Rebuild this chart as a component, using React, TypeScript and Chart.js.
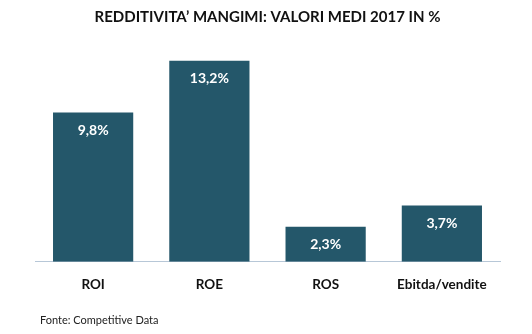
import React, { useEffect, useRef } from "react";
import { Chart, registerables } from "chart.js";

Chart.register(...registerables);

const categories = ["ROI", "ROE", "ROS", "Ebitda/vendite"];
const values = [9.8, 13.2, 2.3, 3.7];
const valueLabels = ["9,8%", "13,2%", "2,3%", "3,7%"];
const titleText = "REDDITIVITA\u2019 MANGIMI: VALORI MEDI 2017 IN %";
const sourceText = "Fonte: Competitive Data";

const FONT = "Lato, 'Open Sans', sans-serif";
const BAR = "#24576A";

const labelPlugin = {
  id: "labelsAndSource",
  afterDatasetsDraw(chart: any) {
    const ctx = chart.ctx;
    const meta = chart.getDatasetMeta(0);
    ctx.save();
    ctx.fillStyle = "#ffffff";
    ctx.font = `bold 14px ${FONT}`;
    ctx.textAlign = "center";
    ctx.textBaseline = "middle";
    meta.data.forEach((el: any, i: number) => {
      ctx.fillText(valueLabels[i], el.x, el.y + 18);
    });
    ctx.fillStyle = "#222222";
    ctx.font = `11px ${FONT}`;
    ctx.textAlign = "left";
    ctx.fillText(sourceText, 40, 320);
    ctx.restore();
  },
};

export default function App() {
  const ref = useRef<HTMLCanvasElement | null>(null);
  useEffect(() => {
    document.body.style.margin = "0";
    const chart = new Chart(ref.current!, {
      type: "bar",
      data: {
        labels: categories,
        datasets: [
          {
            data: values,
            backgroundColor: BAR,
            barPercentage: 0.69,
            categoryPercentage: 1,
          },
        ],
      },
      options: {
        responsive: false,
        animation: false,
        layout: { padding: { left: 35, right: 32, top: 0, bottom: 26 } },
        plugins: {
          legend: { display: false },
          tooltip: { enabled: false },
          title: {
            display: true,
            text: titleText,
            color: "#111111",
            font: { family: FONT, size: 15, weight: "bold", lineHeight: 1.2 },
            padding: { top: 8, bottom: 15 },
          },
        },
        scales: {
          x: {
            grid: { display: false, drawTicks: false },
            border: { display: true, color: "#B7C7D7", width: 1 },
            ticks: {
              color: "#111111",
              padding: 15,
              font: { family: FONT, size: 13.5, weight: "bold", lineHeight: 1.2 },
            },
          },
          y: {
            display: false,
            min: 0,
            max: 14.5,
          },
        },
      },
      plugins: [labelPlugin],
    });
    return () => chart.destroy();
  }, []);
  return <canvas ref={ref} width={532} height={334} style={{ display: "block" }} />;
}
